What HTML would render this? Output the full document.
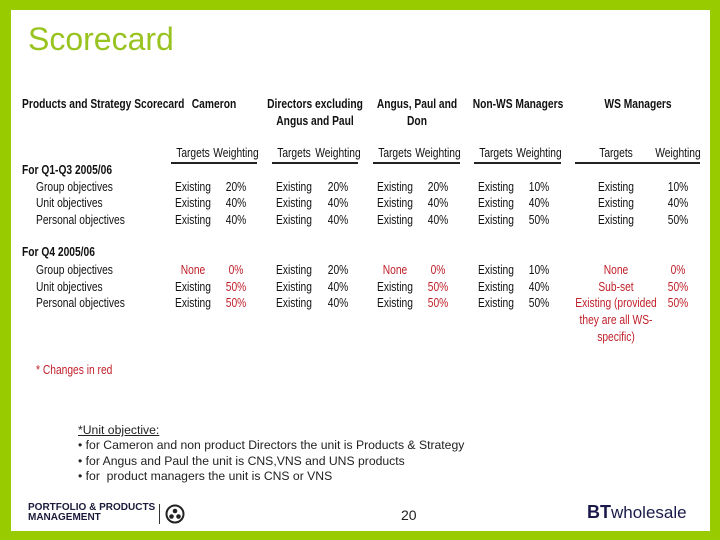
<!DOCTYPE html>
<html><head><meta charset="utf-8"><style>
body{margin:0;width:720px;height:540px;overflow:hidden;background:#9c0;font-family:"Liberation Sans",sans-serif;}
#slide{position:absolute;left:11px;top:10px;width:699px;height:521px;background:#fff;}
.t{position:absolute;white-space:nowrap;font-size:12.5px;color:#111;transform:translate(-50%,-50%) scaleX(0.82);line-height:1;}
.l{transform:translate(0,-50%) scaleX(0.82);transform-origin:left center;}
.b{font-weight:bold;}
.r{color:#c0202a;}
.u{position:absolute;height:1.5px;background:#222;top:162px;}
</style></head><body>
<div id="slide"></div>
<div style="position:absolute;left:28px;top:21px;font-size:32px;color:#99c320;">Scorecard</div>
<div id="tbl"></div>
<div style="position:absolute;left:78px;top:423px;font-size:12.2px;color:#222;line-height:15.3px;">
<div style="text-decoration:underline">*Unit objective:</div>
<div>• for Cameron and non product Directors the unit is Products &amp; Strategy</div>
<div>• for Angus and Paul the unit is CNS,VNS and UNS products</div>
<div>• for &nbsp;product managers the unit is CNS or VNS</div>
</div>
<div style="position:absolute;left:28px;top:503px;font-size:10px;font-weight:bold;color:#1a1a3a;line-height:10px;">PORTFOLIO &amp; PRODUCTS<br>MANAGEMENT</div>
<div style="position:absolute;left:159px;top:504px;width:1px;height:20px;background:#333;"></div>
<svg style="position:absolute;left:165px;top:504px" width="20" height="20"><circle cx="10" cy="10" r="8.5" fill="none" stroke="#222" stroke-width="2"/><circle cx="10" cy="7" r="2.3" fill="#222"/><circle cx="6.5" cy="12.5" r="2.3" fill="#222"/><circle cx="13.5" cy="12.5" r="2.3" fill="#222"/></svg>
<div style="position:absolute;left:401px;top:507px;font-size:14px;color:#222;">20</div>
<div style="position:absolute;left:587px;top:502px;font-size:17px;color:#1a1a4a;"><b style="font-size:18px">BT</b>wholesale</div>
<script>
const tbl=document.getElementById('tbl');
function T(x,y,s,cls){const d=document.createElement('div');d.className='t '+(cls||'');d.style.left=x+'px';d.style.top=y+'px';d.textContent=s;


tbl.appendChild(d);}
T(22,104,'Products and Strategy Scorecard','l b');
T(214,104,'Cameron','b');T(315,104,'Directors excluding','b');T(315,121,'Angus and Paul','b');
T(417,104,'Angus, Paul and','b');T(417,121,'Don','b');T(518,104,'Non-WS Managers','b');T(638,104,'WS Managers','b');
const tc=[193,294,395,496,616],wc=[236,338,438,539,678];
tc.forEach((x,i)=>{T(x,153,'Targets');T(wc[i],153,'Weighting');});
[[171,257],[272,358],[373,460],[474,561],[575,700]].forEach(a=>{const d=document.createElement('div');d.className='u';d.style.left=a[0]+'px';d.style.width=(a[1]-a[0])+'px';


tbl.appendChild(d);});
T(22,170,'For Q1-Q3 2005/06','l b');T(22,252,'For Q4 2005/06','l b');
const labels=['Group objectives','Unit objectives','Personal objectives'];
const y1=[187,203,220],y2=[270,287,303];
labels.forEach((s,i)=>{T(36,y1[i],s,'l');T(36,y2[i],s,'l');});
const q1w=[['20%','40%','40%'],['20%','40%','40%'],['20%','40%','40%'],['10%','40%','50%'],['10%','40%','50%']];
q1w.forEach((c,j)=>c.forEach((w,i)=>{T(tc[j],y1[i],'Existing');T(wc[j],y1[i],w);}));
const q4t=[['None','Existing','Existing'],['Existing','Existing','Existing'],['None','Existing','Existing'],['Existing','Existing','Existing'],['None','Sub-set','Existing (provided']];
const q4w=[['0%','50%','50%'],['20%','40%','40%'],['0%','50%','50%'],['10%','40%','50%'],['0%','50%','50%']];
const red=[[1,0,0],[0,0,0],[1,0,0],[0,0,0],[1,1,1]],redw=[[1,1,1],[0,0,0],[1,1,1],[0,0,0],[1,1,1]];
q4t.forEach((c,j)=>c.forEach((t,i)=>{T(tc[j],y2[i],t,red[j][i]?'r':'');T(wc[j],y2[i],q4w[j][i],redw[j][i]?'r':'');}));
T(616,320,'they are all WS-','r');T(616,337,'specific)','r');
T(36,370,'* Changes in red','l r');
</script>
</body></html>
